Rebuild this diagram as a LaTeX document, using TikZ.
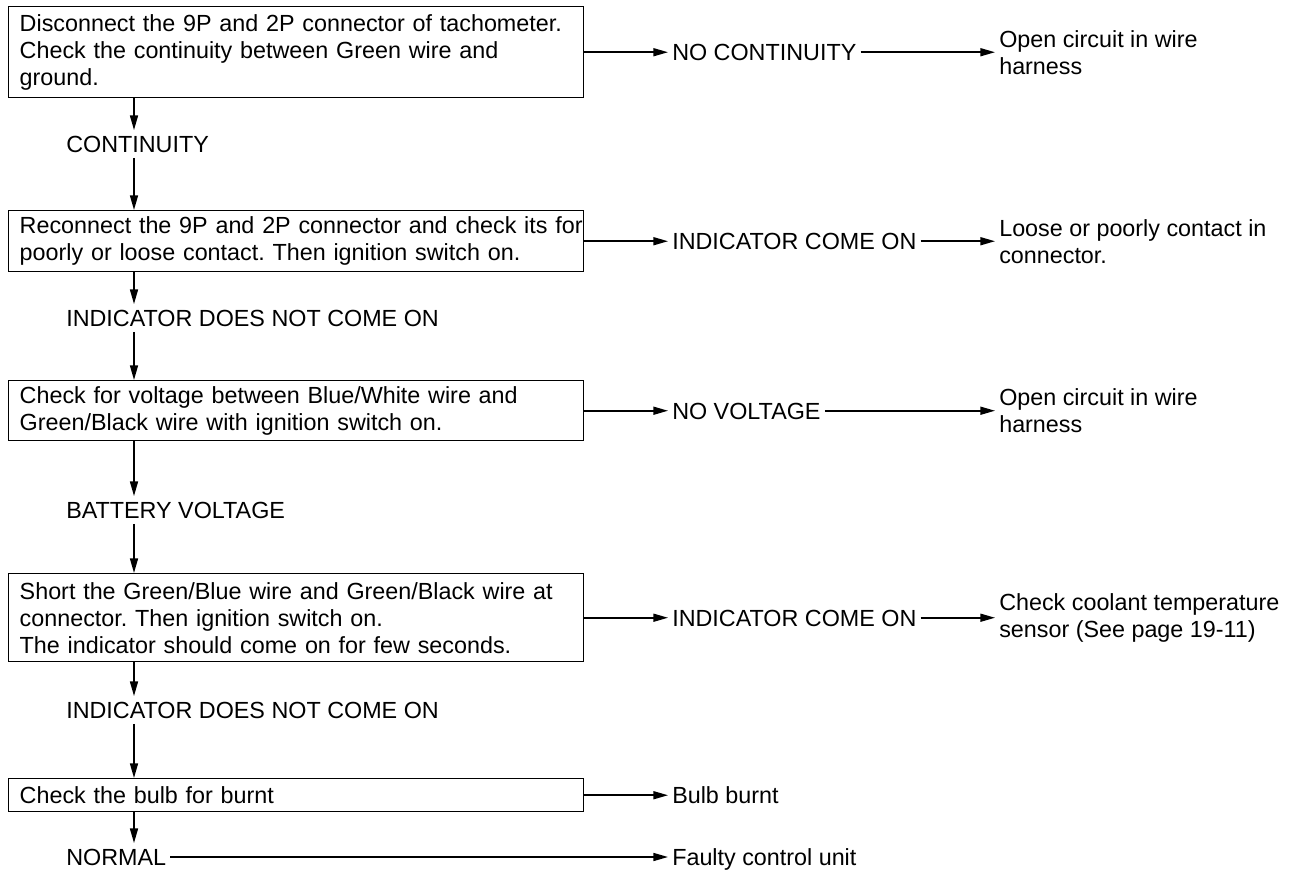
\documentclass[tikz,border=0pt]{standalone}
\usepackage{fontspec}
\setmainfont{Liberation Sans}
\usetikzlibrary{arrows.meta, positioning}
\tikzset{box/.style={rectangle,draw,line width=1.1pt,anchor=north west,text width=414.75pt,inner xsep=8.25pt,inner ysep=2pt,align=left},state/.style={anchor=west,inner xsep=3pt,inner ysep=4pt,text height=12.5pt,text depth=0pt},outcome/.style={anchor=west,inner sep=3pt,align=left},line/.style={-{Triangle[length=11pt,width=6pt]},line width=1.2pt}}
\newcommand{\fullline}[1]{\makebox[\hsize][s]{#1}}
\frenchspacing

\begin{document}
\begin{tikzpicture}[x=0.75pt,y=-0.75pt,font=\fontsize{17.5pt}{20.25pt}\selectfont]
\useasboundingbox (0,0) rectangle (1295,873);
\coordinate (stem) at (134,0);
\coordinate (sidex) at (668,0);
\coordinate (outx) at (995,0);
\node[box,minimum height=68.25pt] (chk1) at (8,6) {\fullline{Disconnect the 9P and 2P connector of tachometer.}\\\fullline{Check the continuity between Green wire and}\\ground.};
\node[state] (res1) at (62,144) {CONTINUITY};
\node[box,minimum height=45.75pt] (chk2) at (8,210) {\fullline{Reconnect the 9P and 2P connector and check its for}\\poorly or loose contact. Then ignition switch on.};
\node[state] (res2) at (62,318) {INDICATOR DOES NOT COME ON};
\node[box,minimum height=45pt] (chk3) at (8,380) {\fullline{Check for voltage between Blue/White wire and}\\Green/Black wire with ignition switch on.};
\node[state] (res3) at (62,510) {BATTERY VOLTAGE};
\node[box,minimum height=66pt] (chk4) at (8,573) {\fullline{Short the Green/Blue wire and Green/Black wire at}\\connector. Then ignition switch on.\\The indicator should come on for few seconds.};
\node[state] (res4) at (62,710) {INDICATOR DOES NOT COME ON};
\node[box,minimum height=24.75pt] (chk5) at (8,778) {Check the bulb for burnt};
\node[state] (res5) at (62,857) {NORMAL};
\node[state] (ans1) at (chk1.east -| sidex) {NO CONTINUITY};
\node[state] (ans2) at (chk2.east -| sidex) {INDICATOR COME ON};
\node[state] (ans3) at (chk3.east -| sidex) {NO VOLTAGE};
\node[state] (ans4) at (chk4.east -| sidex) {INDICATOR COME ON};
\node[state] (bulb) at (chk5.east -| sidex) {Bulb burnt};
\node[state] (fault) at (res5 -| sidex) {Faulty control unit};
\node[outcome] (out1) at (chk1.east -| outx) {Open circuit in wire\\harness};
\node[outcome] (out2) at (chk2.east -| outx) {Loose or poorly contact in\\connector.};
\node[outcome] (out3) at (chk3.east -| outx) {Open circuit in wire\\harness};
\node[outcome] (out4) at (chk4.east -| outx) {Check coolant temperature\\sensor (See page 19-11)};
\draw[line] (chk1.south -| stem) -- (res1.north -| stem);
\draw[line] (res1.south -| stem) -- (chk2.north -| stem);
\draw[line] (chk2.south -| stem) -- (res2.north -| stem);
\draw[line] (res2.south -| stem) -- (chk3.north -| stem);
\draw[line] (chk3.south -| stem) -- (res3.north -| stem);
\draw[line] (res3.south -| stem) -- (chk4.north -| stem);
\draw[line] (chk4.south -| stem) -- (res4.north -| stem);
\draw[line] (res4.south -| stem) -- (chk5.north -| stem);
\draw[line] (chk5.south -| stem) -- (res5.north -| stem);
\draw[line] (chk1) -- (ans1);
\draw[line] (chk2) -- (ans2);
\draw[line] (chk3) -- (ans3);
\draw[line] (chk4) -- (ans4);
\draw[line] (chk5) -- (bulb);
\draw[line] (res5) -- (fault);
\draw[line] (ans1) -- (out1);
\draw[line] (ans2) -- (out2);
\draw[line] (ans3) -- (out3);
\draw[line] (ans4) -- (out4);
\end{tikzpicture}
\end{document}
